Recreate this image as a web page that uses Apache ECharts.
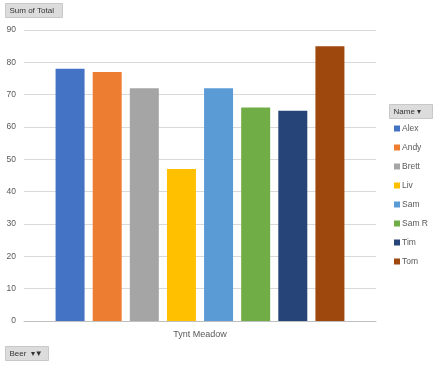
<!DOCTYPE html>
<html><head><meta charset="utf-8">
<script src="https://cdn.jsdelivr.net/npm/echarts@6/dist/echarts.min.js"></script>
<style>html,body{margin:0;padding:0;background:#fff}#c{width:436px;height:365px}</style>
</head><body><div id="c"></div>
<script>
var categories = ['Tynt Meadow'];
var names = ['Alex','Andy','Brett','Liv','Sam','Sam R','Tim','Tom'];
var values = [78, 77, 72, 47, 72, 66, 65, 85];
var colors = ['#4472C4','#ED7D31','#A5A5A5','#FFC000','#5B9BD5','#70AD47','#264478','#9E480E'];
var yTicks = [0,10,20,30,40,50,60,70,80,90];

var chart = echarts.init(document.getElementById('c'));
var font = 'Liberation Sans, Arial, sans-serif';
var series = names.map(function(n,i){
  return {name:n,type:'bar',data:[values[i]],barWidth:29,barGap:'28%',
    itemStyle:{color:colors[i]}};
});
function btn(x,y,w,h,text){
  return {type:'group',left:x,top:y,children:[
    {type:'rect',shape:{x:0,y:0,width:w,height:h},style:{fill:'#dcdcdc',stroke:'#c8c8c8',lineWidth:1}},
    {type:'text',x:4,y:h/2,style:{text:text,fill:'#333',font:'8px '+font,verticalAlign:'middle'}}
  ]};
}
chart.setOption({
  animation:false,
  textStyle:{fontFamily:font},
  grid:{left:24,right:60,top:30,bottom:44,containLabel:false},
  xAxis:{type:'category',data:categories,
    axisLine:{lineStyle:{color:'#bfbfbf'}},axisTick:{show:false},
    axisLabel:{color:'#595959',fontSize:9,margin:9}},
  yAxis:{type:'value',min:0,max:90,interval:10,
    axisLabel:{color:'#595959',fontSize:8.5,margin:8},
    splitLine:{lineStyle:{color:'#d9d9d9'}},axisLine:{show:false},axisTick:{show:false}},
  legend:{orient:'vertical',left:389,top:119,itemWidth:6,itemHeight:6,itemGap:10,
    icon:'rect',textStyle:{color:'#595959',fontSize:8.5,padding:[0,0,0,-3]},data:names},
  series:series,
  graphic:[
    btn(5,3,57,14,'Sum of Total'),
    btn(389,104,43,14,'Name ▾'),
    btn(5,346,43,14,'Beer  ▾▼')
  ]
});
</script></body></html>
